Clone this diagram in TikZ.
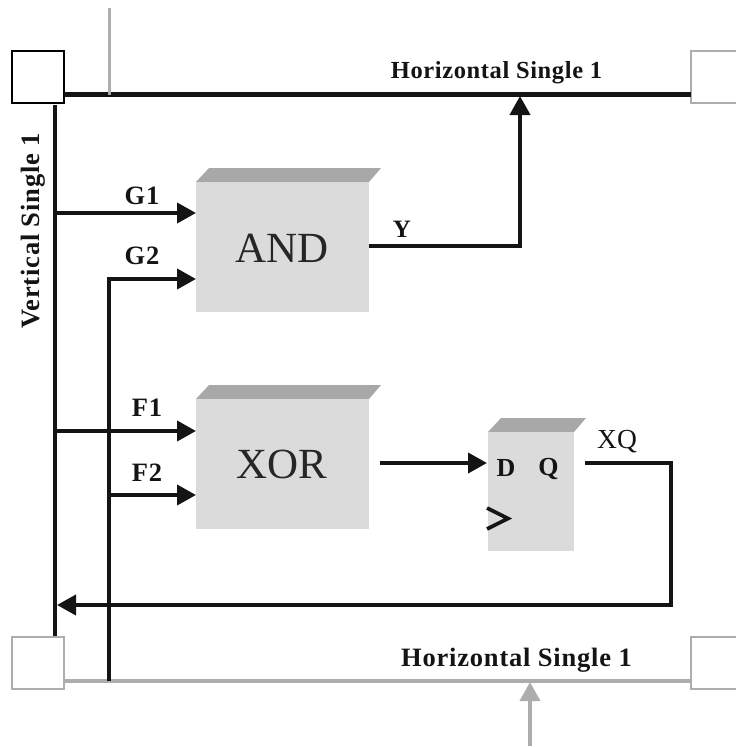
\documentclass[tikz,border=0pt]{standalone}
\usepackage{fontspec}
\setmainfont{Liberation Serif}
\usetikzlibrary{arrows.meta}
\tikzset{
  wire/.style={line width=4pt,draw=black!92,line join=miter},
  bus/.style={wire,line width=4.6pt},
  gwire/.style={line width=3.8pt,draw=black!32},
  arr/.style={-{Triangle[length=19pt,width=20pt]}},
  corner/.style={draw=black,line width=2.4pt,fill=white,minimum size=52pt,inner sep=0pt,outer sep=0pt},
  gcorner/.style={corner,draw=black!32,line width=2.6pt},
  body/.style={fill=black!14,inner sep=0pt,outer sep=0pt},
  lab/.style={inner sep=0pt,text=black!92},
  big/.style={font=\fontsize{43}{43}\selectfont,inner sep=0pt,text=black!85},
  t23/.style={font=\bfseries\fontsize{24.5}{24.5}\selectfont\addfontfeature{LetterSpace=2.5}},
  t25/.style={font=\bfseries\fontsize{26.5}{26.5}\selectfont\addfontfeature{LetterSpace=3}},
}
\begin{document}
\begin{tikzpicture}[x=1pt,y=-1pt]
\useasboundingbox (0,0) rectangle (736,747);
\clip (0,0) rectangle (736,747);
% corner squares
\node[corner,anchor=center] (tl) at (38,77) {};
\node[gcorner] (tr) at (717,77) {};
\node[gcorner] (bl) at (38,663) {};
\node[gcorner] (br) at (717,663) {};
% logic blocks
\fill[black!34] (196,182) -- (209,168) -- (381,168) -- (369,182) -- cycle;
\node[body,minimum width=173pt,minimum height=130pt] (and) at (282.5,247) {};
\node[big] at (282,248) {AND};
\fill[black!34] (196,399) -- (209,385) -- (381,385) -- (369,399) -- cycle;
\node[body,minimum width=173pt,minimum height=130pt] (xor) at (282.5,464) {};
\node[big] at (282,464) {XOR};
\fill[black!34] (488,432) -- (501,418) -- (586,418) -- (574,432) -- cycle;
\node[body,minimum width=86pt,minimum height=119pt] (ff) at (531,491.5) {};
% coordinates
\coordinate (topG) at (109.5,8);
\coordinate (topGj) at (109.5,94.5);
\coordinate (vb) at (55,105);
\coordinate (ve) at (55,636);
\coordinate (g1s) at (55,213);
\coordinate (g1e) at (196,213);
\coordinate (g2s) at (109,681);
\coordinate (g2e) at (196,279);
\coordinate (f1s) at (55,431);
\coordinate (f1e) at (196,431);
\coordinate (f2s) at (109,495);
\coordinate (f2e) at (196,495);
\coordinate (ys) at (369,246);
\coordinate (ye) at (520,96);
\coordinate (xs) at (380,463);
\coordinate (xe) at (487,463);
\coordinate (qs) at (585,463);
\coordinate (qc) at (671,605);
\coordinate (qe) at (57,605);
\coordinate (ga) at (530,746);
\coordinate (gb) at (530,682);
% grey wires
\draw[gwire] (bl.east |- 0,681) -- (br.west |- 0,681);
% black wires
\draw[bus] (tl.east |- 0,94.5) -- (tr.west |- 0,94.5);
\draw[bus] (vb) -- (ve);
\draw[gwire] (topG) -- (topGj);
\draw[gwire,arr] (ga) -- (gb);
\draw[wire,arr] (g1s) -- (g1e);
\draw[wire,arr] (g2s) |- (g2e);
\draw[wire,arr] (f1s) -- (f1e);
\draw[wire,arr] (f2s) -- (f2e);
\draw[wire,arr] (ys) -| (ye);
\draw[wire,arr] (xs) -- (xe);
\draw[wire,arr] (qs) -| (qc) -- (qe);
% labels
\node[lab,t23] (h1) at (496.5,73) {Horizontal Single 1};
\node[lab,t25] (h2) at (516.5,660) {Horizontal Single 1};
\node[lab,rotate=90,t25] (v1) at (33,231) {Vertical Single 1};
\node[lab,t25] at (142,196) {G1};
\node[lab,t25] at (142,256) {G2};
\node[lab,t25] at (147,408) {F1};
\node[lab,t25] at (147,473) {F2};
\node[lab,font=\fontsize{25}{25}\selectfont\bfseries] at (402,229) {Y};
\node[lab,font=\fontsize{27.5}{27.5}\selectfont] at (617,442) {XQ};
\node[lab,font=\bfseries\fontsize{26}{26}\selectfont] at (506,468) {D};
\node[lab,font=\bfseries\fontsize{26}{26}\selectfont] at (548.5,469) {Q};
\draw[line width=3.6pt,black!92] (487,508) -- (508,518.5) -- (487,529);
\end{tikzpicture}
\end{document}
